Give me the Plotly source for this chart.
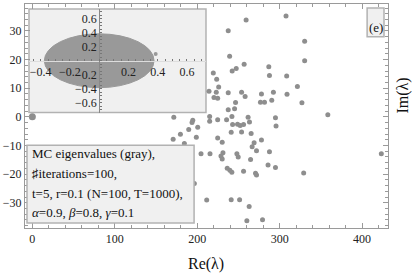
import plotly.graph_objects as go

# ---------------- data ----------------
re_vals = [259.3, 307.7, 237.6, 330.3, 239.3, 330.3, 256.9, 247.3, 242.4, 219.5,
           286.8, 287.6, 308.5, 223.6, 226.0, 321.5, 214.3, 223.1, 237.6, 253.8,
           277.9, 292.4, 308.9, 220.3, 224.8, 258.1, 246.5, 276.7, 281.6, 290.4,
           327.0, 237.6, 245.3, 358.4, 171.6, 194.6, 193.7, 200.6, 189.7, 179.6,
           170.8, 184.4, 198.9, 215.1, 215.1, 224.8, 235.6, 242.1, 242.9, 248.9,
           252.1, 256.2, 261.7, 263.4, 241.2, 253.8, 265.4, 277.9, 294.9, 295.6,
           224.8, 230.3, 269.0, 266.6, 271.9, 287.6, 204.6, 215.5, 231.2, 228.8,
           230.3, 248.1, 249.7, 264.7, 236.4, 239.6, 242.0, 256.2, 270.7, 271.9,
           285.9, 294.9, 196.5, 211.5, 241.2, 251.4, 263.0, 260.2, 279.2, 329.1,
           423.3]
im_vals = [33.8, 35.2, 30.1, 26.4, 21.2, 19.6, 18.4, 16.9, 16.0, 15.3,
           17.5, 14.4, 14.3, 13.1, 10.4, 10.6, 8.9, 8.6, 8.4, 8.6,
           8.0, 8.6, 7.9, 6.8, 6.5, 7.1, 5.0, 5.1, 5.1, 5.8,
           4.9, 2.5, 2.8, 0.7, -0.1, -1.2, -2.0, -3.6, -4.4, -6.1,
           -7.8, -9.3, -7.1, 0.1, -1.5, -1.0, -1.0, 0.1, -2.7, -2.6,
           -3.0, -2.7, -0.1, -1.8, -5.4, -5.3, -5.8, -8.1, -0.3, -3.2,
           -7.4, -8.9, -9.0, -10.4, -11.8, -12.2, -12.9, -12.9, -12.5, -13.7,
           -14.7, -12.9, -14.0, -14.9, -17.9, -18.6, -19.3, -19.0, -19.7, -20.3,
           -16.8, -17.7, -23.3, -29.0, -28.9, -28.9, -31.3, -36.3, -35.9, -19.6,
           -12.9]
mc_re = [0.0]
mc_im = [0.0]

inset_blob_center = [0.0, 0.0]
inset_blob_radius = [0.375, 0.385]
inset_out_re = [0.386]
inset_out_im = [0.096]

x_ticks = [0, 100, 200, 300, 400]
y_ticks = [-30, -20, -10, 0, 10, 20, 30]
inset_x_ticks = [-0.4, -0.2, 0.2, 0.4, 0.6]
inset_y_ticks = [-0.6, -0.4, -0.2, 0.2, 0.4, 0.6]

legend_lines = ["MC eigenvalues (gray),",
                "\u266fiterations=100,",
                "t=5, r=0.1 (N=100, T=1000),",
                "<i>\u03b1</i>=0.9, <i>\u03b2</i>=0.8, <i>\u03b3</i>=0.1"]
panel_label = "(e)"
x_title = "Re(\u03bb)"
y_title = "Im(\u03bb)"

# ---------------- styling ----------------
SERIF = "Liberation Serif, Times New Roman, serif"
PT = "#8e8e8e"
FRAME = "#9a9a9a"
BOXBG = "#f0f0f0"
BOXLINE = "#b2b2b2"

main_xr = [-8.9, 431.4]
main_yr = [-38.8, 39.4]
inset_xr = [-0.48, 0.73]
inset_yr = [-0.74, 0.74]
inset_xdom = [0.011, 0.4986]
inset_ydom = [0.5156, 0.9778]

fig = go.Figure()
fig.add_trace(go.Scatter(x=re_vals, y=im_vals, mode="markers",
                         marker=dict(color=PT, size=5), xaxis="x", yaxis="y",
                         hoverinfo="skip", showlegend=False))
fig.add_trace(go.Scatter(x=mc_re, y=mc_im, mode="markers",
                         marker=dict(color=PT, size=7), xaxis="x", yaxis="y",
                         hoverinfo="skip", showlegend=False))
fig.add_trace(go.Scatter(x=inset_out_re, y=inset_out_im, mode="markers",
                         marker=dict(color="#999999", size=4), xaxis="x2", yaxis="y2",
                         hoverinfo="skip", showlegend=False))

# inset axis positions (where the other coordinate is zero)
x2_pos = inset_ydom[0] + (0 - inset_yr[0]) / (inset_yr[1] - inset_yr[0]) * (inset_ydom[1] - inset_ydom[0])
y2_pos = inset_xdom[0] + (0 - inset_xr[0]) / (inset_xr[1] - inset_xr[0]) * (inset_xdom[1] - inset_xdom[0])

axis_font = dict(family=SERIF, size=12, color="#222222")

fig.update_layout(
    width=415, height=273,
    margin=dict(l=23, r=27, t=3, b=45),
    paper_bgcolor="white", plot_bgcolor="rgba(0,0,0,0)",
    showlegend=False,
    xaxis=dict(range=main_xr, domain=[0, 1], showgrid=False, zeroline=False,
               showline=True, linecolor=FRAME, linewidth=1, mirror="allticks",
               ticks="inside", ticklen=5, tickcolor=FRAME, tickvals=x_ticks,
               tickfont=axis_font,
               minor=dict(tickmode="linear", tick0=0, dtick=20, ticks="inside",
                          ticklen=3, tickcolor=FRAME)),
    yaxis=dict(range=main_yr, domain=[0, 1], showgrid=False, zeroline=False,
               showline=True, linecolor=FRAME, linewidth=1, mirror="allticks",
               ticks="inside", ticklen=5, tickcolor=FRAME, tickvals=y_ticks,
               tickfont=axis_font,
               minor=dict(tickmode="linear", tick0=0, dtick=2, ticks="inside",
                          ticklen=3, tickcolor=FRAME)),
    xaxis2=dict(range=inset_xr, domain=inset_xdom, anchor="free", position=x2_pos,
                showgrid=False, zeroline=False, showline=True, linecolor="#dddddd",
                linewidth=1, ticks="inside", ticklen=2, tickcolor="#777777",
                tickvals=inset_x_ticks, tickformat=".1f", tickfont=axis_font,
                minor=dict(tickmode="linear", tick0=0, dtick=0.05, ticks="inside",
                           ticklen=2, tickcolor="#777777")),
    yaxis2=dict(range=inset_yr, domain=inset_ydom, anchor="free", position=y2_pos,
                showgrid=False, zeroline=False, showline=True, linecolor="#888888",
                linewidth=1, ticks="inside", ticklen=2, tickcolor="#777777",
                tickvals=inset_y_ticks, tickformat=".1f", tickfont=axis_font,
                minor=dict(tickmode="linear", tick0=0, dtick=0.05, ticks="inside",
                           ticklen=2, tickcolor="#777777")),
)

# inset background + blob
fig.add_shape(type="rect", xref="x2 domain", yref="y2 domain", x0=0, x1=1, y0=0, y1=1,
              fillcolor=BOXBG, line=dict(color=BOXLINE, width=1.5), layer="below")
fig.add_shape(type="circle", xref="x2", yref="y2",
              x0=inset_blob_center[0] - inset_blob_radius[0],
              x1=inset_blob_center[0] + inset_blob_radius[0],
              y0=inset_blob_center[1] - inset_blob_radius[1],
              y1=inset_blob_center[1] + inset_blob_radius[1],
              fillcolor="#999999", line=dict(color="#999999", width=1), layer="below")

# legend-like text box
lx0, lx1, ly0, ly1 = 0.0055, 0.4658, 0.0222, 0.3689
fig.add_shape(type="rect", xref="paper", yref="paper", x0=lx0, x1=lx1, y0=ly0, y1=ly1,
              fillcolor=BOXBG, line=dict(color=BOXLINE, width=1.5), layer="above")
line_y = [(228 - py) / 225 for py in (153.3, 173.3, 193.0, 212.0)]
for txt, yy in zip(legend_lines, line_y):
    fig.add_annotation(text=txt, xref="paper", yref="paper", x=0.015, y=yy,
                       xanchor="left", yanchor="middle", showarrow=False,
                       font=dict(family=SERIF, size=13, color="#111111"))

# panel label box
fig.add_shape(type="rect", xref="paper", yref="paper", x0=0.9425, x1=0.989,
              y0=0.8533, y1=0.982, fillcolor=BOXBG,
              line=dict(color=BOXLINE, width=1.5), layer="above")
fig.add_annotation(text=panel_label, xref="paper", yref="paper", x=0.9658, y=0.893,
                   xanchor="center", yanchor="middle", showarrow=False,
                   font=dict(family=SERIF, size=13, color="#111111"))

# axis titles
fig.add_annotation(text=x_title, xref="paper", yref="paper", x=0.4986, y=-0.16,
                   xanchor="center", yanchor="middle", showarrow=False,
                   font=dict(family=SERIF, size=16, color="#111111"))
fig.add_annotation(text=y_title, xref="paper", yref="paper", x=1.041, y=0.591,
                   xanchor="center", yanchor="middle", showarrow=False, textangle=-90,
                   font=dict(family=SERIF, size=16, color="#111111"))

fig.write_html("out.html", config={"displayModeBar": False},
               post_script="document.body.style.margin='0px';")
